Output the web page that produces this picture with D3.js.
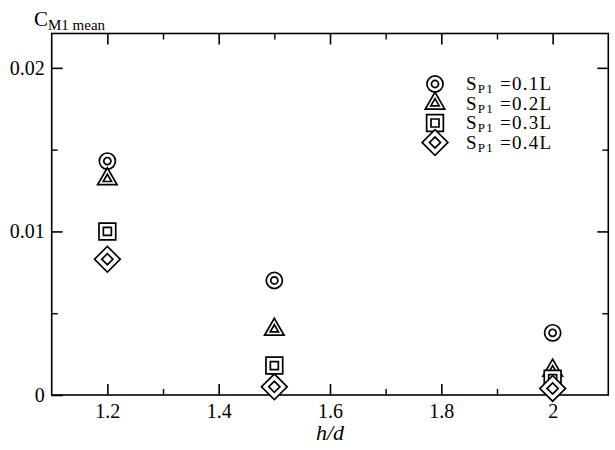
<!DOCTYPE html>
<html>
<head>
<meta charset="utf-8">
<script src="https://cdn.jsdelivr.net/npm/d3@7"></script>
<style>
  body { margin: 0; background: #fff; }
  svg text { font-family: "Liberation Serif", "DejaVu Serif", serif; fill: #000; }
</style>
</head>
<body>
<div id="chart"></div>
<script>
// data
const hd = [1.2, 1.5, 2.0];
const seriesNames = ["0.1L", "0.2L", "0.3L", "0.4L"];
const sp01 = [0.0143, 0.0070, 0.0038];
const sp02 = [0.0132, 0.0040, 0.0015];
const sp03 = [0.0100, 0.0018, 0.0010];
const sp04 = [0.0083, 0.0005, 0.0004];
const xTicks = [1.2, 1.4, 1.6, 1.8, 2];
const xMinor = [1.3, 1.5, 1.7, 1.9];
const yTicks = [0, 0.01, 0.02];
const yMinor = [0.005, 0.015];

(() => {
    const W = 615, H = 450;
    const left = 51.7, right = 608.3, top = 33.5, bottom = 395;
    const serif = "'Liberation Serif', 'DejaVu Serif', serif";

    const x = d3.scaleLinear().domain([1.1, 2.1]).range([left, right]);
    const y = d3.scaleLinear().domain([0, 0.0221]).range([bottom, top]);

    const svg = d3.select("#chart").append("svg")
        .attr("width", W).attr("height", H)
        .attr("font-family", serif);

    // frame
    svg.append("rect")
        .attr("x", left).attr("y", top)
        .attr("width", right - left).attr("height", bottom - top)
        .attr("fill", "none").attr("stroke", "#000").attr("stroke-width", 1.6);

    // helper: an axis with inward ticks and no domain line
    function axis(gen, tr, vals, size, fmt) {
        const g = svg.append("g").attr("transform", tr)
            .call(gen.tickValues(vals).tickSize(size).tickFormat(fmt));
        g.attr("font-family", serif).attr("font-size", 20);
        g.select(".domain").remove();
        g.selectAll("line").attr("stroke", "#000").attr("stroke-width", size < -8 ? 1.6 : 1.4);
        return g;
    }

    // x axis (bottom + mirrored top)
    const xAxis = axis(d3.axisBottom(x), `translate(0,${bottom})`, xTicks, -11, d3.format(""));
    xAxis.selectAll("text").attr("dy", 0).attr("y", 23);
    axis(d3.axisBottom(x), `translate(0,${bottom})`, xMinor, -6, "");
    axis(d3.axisTop(x), `translate(0,${top})`, xTicks, -11, "");
    axis(d3.axisTop(x), `translate(0,${top})`, xMinor, -6, "");

    // y axis (left + mirrored right)
    const yAxis = axis(d3.axisLeft(y), `translate(${left},0)`, yTicks, -11,
        d => d === 0 ? "0" : d3.format(".2f")(d));
    yAxis.selectAll("text").attr("x", -7);
    axis(d3.axisLeft(y), `translate(${left},0)`, yMinor, -6, "");
    axis(d3.axisRight(y), `translate(${right},0)`, yTicks.filter(d => d > 0), -11, "");
    axis(d3.axisRight(y), `translate(${right},0)`, yMinor, -6, "");

    // axis titles
    const yt = svg.append("text").attr("x", 34).attr("y", 26);
    yt.append("tspan").text("C").style("font-size", "21px");
    yt.append("tspan").text("M1 mean").attr("dy", 4).style("font-size", "15px");

    svg.append("text")
        .attr("x", (left + right) / 2).attr("y", 440)
        .attr("text-anchor", "middle")
        .style("font-size", "22px").style("font-style", "italic")
        .text("h/d");

    // double-outline markers
    const markers = [
        { type: d3.symbolCircle, outer: 205, inner: 40, rot: 0 },
        { type: d3.symbolTriangle, outer: 165, inner: 30, rot: 0 },
        { type: d3.symbolSquare, outer: 280, inner: 64, rot: 0 },
        { type: d3.symbolSquare, outer: 330, inner: 62, rot: 45 }
    ];

    function drawMarker(g, m) {
        g.append("path").attr("d", d3.symbol().type(m.type).size(m.outer)())
            .attr("transform", `rotate(${m.rot})`)
            .attr("fill", "#fff").attr("stroke", "#000").attr("stroke-width", 1.7);
        g.append("path").attr("d", d3.symbol().type(m.type).size(m.inner)())
            .attr("transform", `rotate(${m.rot})`)
            .attr("fill", "none").attr("stroke", "#000").attr("stroke-width", 1.7);
    }

    const allSeries = [sp01, sp02, sp03, sp04];
    allSeries.forEach((vals, si) => {
        vals.forEach((v, i) => {
            const g = svg.append("g")
                .attr("transform", `translate(${x(hd[i])},${y(v)})`);
            drawMarker(g, markers[si]);
        });
    });

    // legend
    const legend = svg.append("g").attr("transform", "translate(435,84)");
    seriesNames.forEach((name, i) => {
        const row = legend.append("g").attr("transform", `translate(0,${i * 19.5})`);
        drawMarker(row, markers[i]);
        const t = row.append("text").attr("x", 31).attr("y", 6)
            .attr("textLength", 85).attr("lengthAdjust", "spacing");
        t.append("tspan").text("S").style("font-size", "19px");
        t.append("tspan").text("P1").attr("dy", 3).style("font-size", "13px");
        t.append("tspan").text(" =" + name).attr("dy", -3).style("font-size", "19px");
    });
})();
</script>
</body>
</html>
